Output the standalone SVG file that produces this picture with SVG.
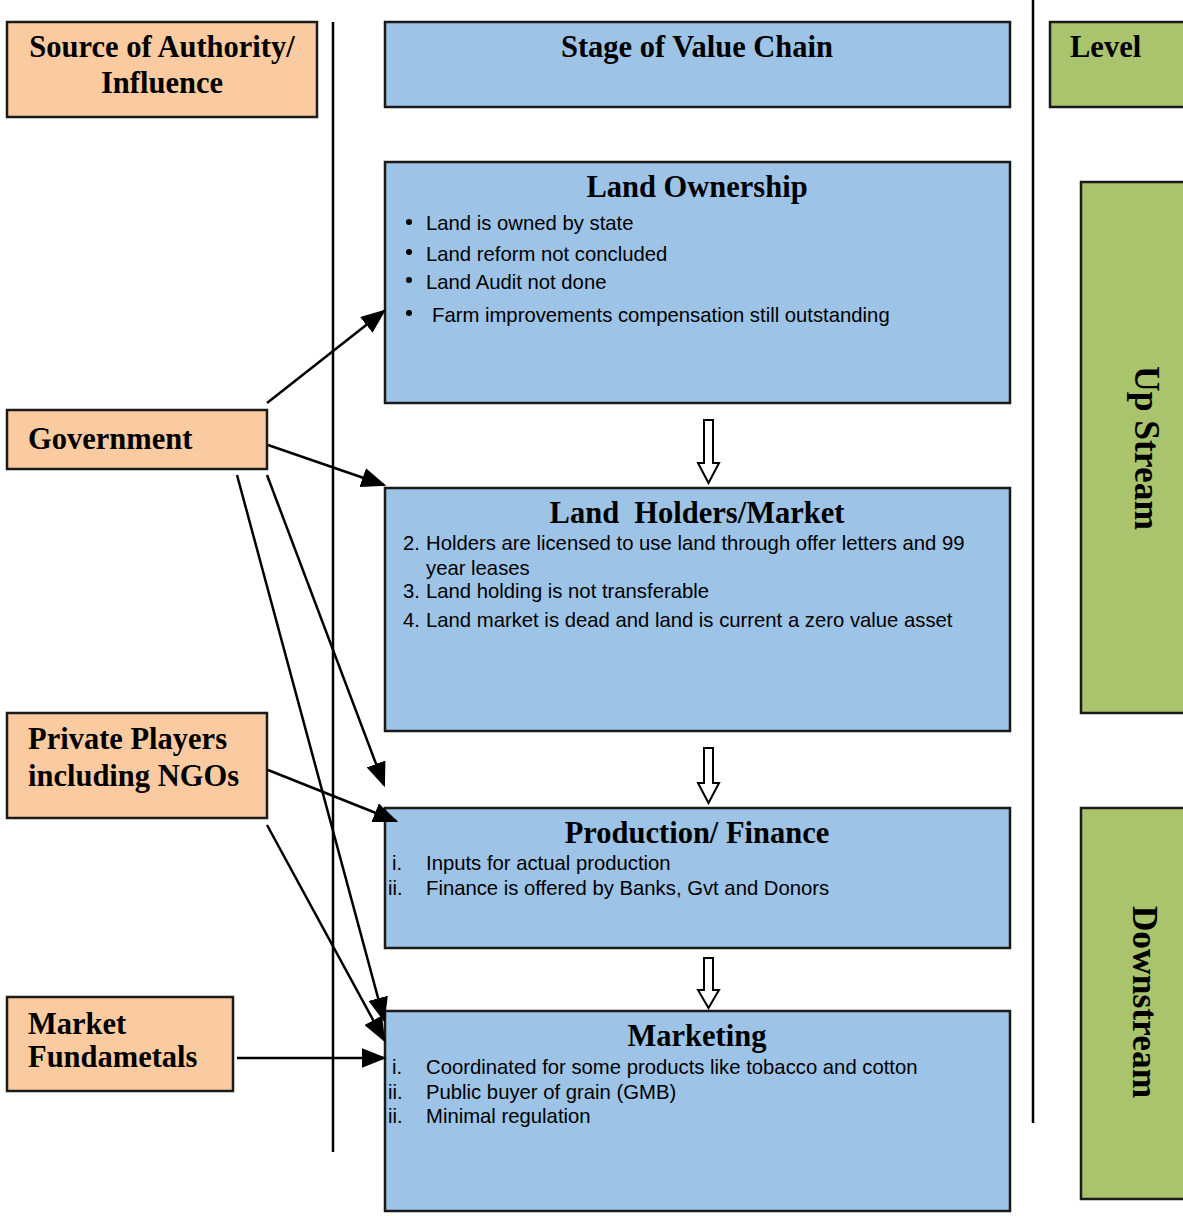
<svg xmlns="http://www.w3.org/2000/svg" width="1183" height="1216" viewBox="0 0 1183 1216">
<style>
.src{fill:#FACBA0;stroke:#1a1a1a;stroke-width:2.5}
.stg{fill:#9DC3E6;stroke:#1a1a1a;stroke-width:2.5}
.lvl{fill:#A9C46C;stroke:#1a1a1a;stroke-width:2.5}
.t{font-family:"Liberation Serif","Times New Roman",serif;font-weight:bold;font-size:30.5px;fill:#000}
.r{font-family:"Liberation Serif","Times New Roman",serif;font-weight:bold;font-size:35.5px;fill:#000}
.b{font-family:"Liberation Sans",Arial,sans-serif;font-size:20.3px;fill:#000}
.c{stroke:#000;stroke-width:2.5;fill:none}
.h{fill:#fff;stroke:#000;stroke-width:2}
</style>
<defs>
<marker id="ah" markerWidth="10" markerHeight="8" refX="9" refY="4" orient="auto" markerUnits="strokeWidth">
<path d="M0,0 L10,4 L0,8 z" fill="#000"/>
</marker>
</defs>
<line x1="333" y1="22" x2="333" y2="1152" stroke="#000" stroke-width="2.5"/>
<line x1="1033" y1="0" x2="1033" y2="1123" stroke="#000" stroke-width="2.5"/>
<g id="source"><rect class="src" x="7" y="22" width="310" height="95"/><text class="t" x="162" y="57" text-anchor="middle">Source of Authority/</text><text class="t" x="162" y="93" text-anchor="middle">Influence</text></g>
<g id="stage"><rect class="stg" x="385" y="22" width="625" height="85"/><text class="t" x="697" y="57" text-anchor="middle">Stage of Value Chain</text></g>
<g id="level"><rect class="lvl" x="1050" y="22" width="140" height="85"/><text class="t" x="1070" y="57">Level</text></g>
<g id="upstream"><rect class="lvl" x="1081" y="182" width="110" height="531"/><text class="r" transform="translate(1135,448) rotate(90)" text-anchor="middle">Up Stream</text></g>
<g id="downstream"><rect class="lvl" x="1081" y="808" width="110" height="391"/><text class="r" transform="translate(1133,1002) rotate(90)" text-anchor="middle">Downstream</text></g>
<g id="government"><rect class="src" x="7" y="410" width="260" height="59"/><text class="t" x="28" y="449">Government</text></g>
<g id="private"><rect class="src" x="7" y="713" width="260" height="105"/><text class="t" x="28" y="749">Private Players</text><text class="t" x="28" y="786">including NGOs</text></g>
<g id="market"><rect class="src" x="7" y="997" width="226" height="94"/><text class="t" x="28" y="1034">Market</text><text class="t" x="28" y="1067">Fundametals</text></g>
<g id="landownership"><rect class="stg" x="385" y="162" width="625" height="241"/><text class="t" x="697" y="197" text-anchor="middle">Land Ownership</text>
<circle cx="409" cy="222" r="3"/><circle cx="409" cy="252" r="3"/><circle cx="409" cy="280" r="3"/><circle cx="409" cy="313" r="3"/>
<text class="b" x="426" y="230">Land is owned by state</text><text class="b" x="426" y="261">Land reform not concluded</text><text class="b" x="426" y="289">Land Audit not done</text><text class="b" x="432" y="322">Farm improvements compensation still outstanding</text></g>
<g id="landholders"><rect class="stg" x="385" y="488" width="625" height="243"/><text class="t" x="697" y="523" text-anchor="middle" xml:space="preserve">Land  Holders/Market</text>
<text class="b" x="403" y="550">2.</text><text class="b" x="426" y="550">Holders are licensed to use land through offer letters and 99</text><text class="b" x="426" y="575">year leases</text>
<text class="b" x="403" y="598">3.</text><text class="b" x="426" y="598">Land holding is not transferable</text>
<text class="b" x="403" y="627">4.</text><text class="b" x="426" y="627">Land market is dead and land is current a zero value asset</text></g>
<g id="production"><rect class="stg" x="385" y="808" width="625" height="140"/><text class="t" x="697" y="843" text-anchor="middle">Production/ Finance</text>
<text class="b" x="392" y="870">i.</text><text class="b" x="426" y="870">Inputs for actual production</text>
<text class="b" x="388" y="895">ii.</text><text class="b" x="426" y="895">Finance is offered by Banks, Gvt and Donors</text></g>
<g id="marketing"><rect class="stg" x="385" y="1011" width="625" height="200"/><text class="t" x="697" y="1046" text-anchor="middle">Marketing</text>
<text class="b" x="392" y="1074">i.</text><text class="b" x="426" y="1074">Coordinated for some products like tobacco and cotton</text>
<text class="b" x="388" y="1099">ii.</text><text class="b" x="426" y="1099">Public buyer of grain (GMB)</text>
<text class="b" x="388" y="1123">ii.</text><text class="b" x="426" y="1123">Minimal regulation</text></g>
<g id="connectors">
<line class="c" x1="267" y1="403" x2="384" y2="311" marker-end="url(#ah)"/>
<line class="c" x1="268" y1="445" x2="384" y2="485" marker-end="url(#ah)"/>
<line class="c" x1="267" y1="475" x2="384" y2="785" marker-end="url(#ah)"/>
<line class="c" x1="237" y1="475" x2="384" y2="1020" marker-end="url(#ah)"/>
<line class="c" x1="268" y1="770" x2="396" y2="821" marker-end="url(#ah)"/>
<line class="c" x1="267" y1="825" x2="384" y2="1040" marker-end="url(#ah)"/>
<line class="c" x1="237" y1="1058" x2="384" y2="1058" marker-end="url(#ah)"/>
<path class="h" d="M704,420 H713 V463 H719 L708.5,483 L698,463 H704 Z"/>
<path class="h" d="M704,748 H713 V783 H719 L708.5,803 L698,783 H704 Z"/>
<path class="h" d="M704,958 H713 V990 H719 L708.5,1008 L698,990 H704 Z"/>
</g>
</svg>
